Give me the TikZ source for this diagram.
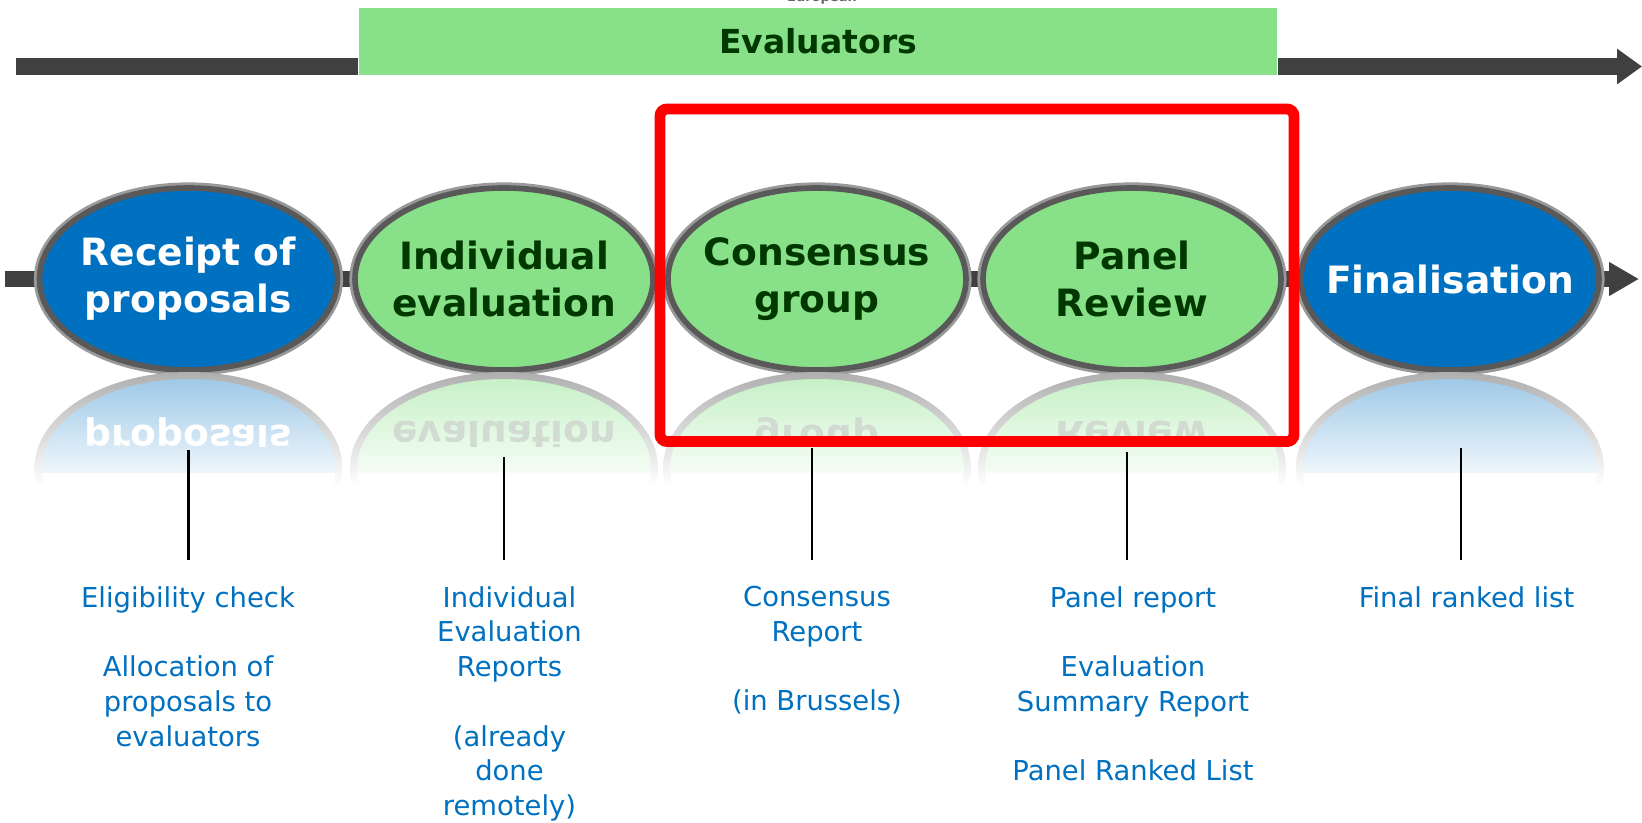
\documentclass[tikz,border=0pt]{standalone}
\usepackage{fontspec}
\setmainfont{DejaVu Sans}
\usepackage{xcolor}
\usepackage{tikz}
\usetikzlibrary{shapes.geometric, arrows.meta, positioning, backgrounds}

\definecolor{ecblue}{HTML}{0070C0}
\definecolor{evgreen}{HTML}{88E188}
\definecolor{evdark}{HTML}{003800}
\definecolor{bargray}{HTML}{404040}

\begin{document}
\begin{tikzpicture}[
    phase/.style={ellipse, draw=black!65, line width=1.6pt, minimum width=2.98cm, minimum height=1.82cm,
        inner sep=-0.35cm, align=center, font=\bfseries\fontsize{10.7pt}{13.4pt}\selectfont,
        preaction={draw=black!40, line width=3.2pt}},
    ecphase/.style={phase, fill=ecblue, text=white},
    evphase/.style={phase, fill=evgreen, text=evdark},
    mirrortext/.style={align=center, inner sep=0pt, transform shape, font=\bfseries\fontsize{10.7pt}{13.4pt}\selectfont},
    blueglow/.style={top color=ecblue!50, middle color=ecblue!33, bottom color=white},
    greenglow/.style={top color=evgreen!62, middle color=evgreen!42, bottom color=white},
    rimglow/.style={top color=black!40, bottom color=white},
    note/.style={text=ecblue, align=center, anchor=north, inner xsep=0pt, inner ysep=7.3pt,
        font=\fontsize{7.8pt}{9.87pt}\selectfont},
    bar/.style={draw=bargray, line width=4.8pt},
    drop/.style={draw=black, line width=0.75pt},
    focus/.style={draw=red, line width=3.1pt, rounded corners=2pt},
]
\useasboundingbox (0,0) rectangle (16.42,8.22);

% === EVALUATORS BAR ===
\coordinate (top_start) at (0.16, 7.555);
\coordinate (top_end) at (16.42, 7.555);
\node[fill=evgreen, minimum width=9.18cm, minimum height=0.67cm, inner sep=0pt, text=evdark,
    font=\bfseries\fontsize{9.4pt}{11pt}\selectfont] (evaluators) at (8.18, 7.805) {\raisebox{-1.4pt}{Evaluators}};
\node[anchor=base, text=black!60, font=\bfseries\fontsize{3.7pt}{4pt}\selectfont] (european) at (8.22, 8.205) {European};
\draw[bar] (top_start) -- (top_start -| evaluators.west);
\draw[bar, -{Triangle[length=0.25cm, width=0.34cm]}] (top_end -| evaluators.east) -- (top_end);

% === PHASES ===
\node[ecphase] (rcpt) at (1.885, 5.43) {Receipt of\\proposals};
\node[evphase] (indiv) at (5.04, 5.43) {Individual\\evaluation};
\node[evphase] (cons) at (8.17, 5.43) {Consensus\\group};
\node[evphase] (panel) at (11.32, 5.43) {Panel\\Review};
\node[ecphase] (final) at (14.50, 5.43) {Finalisation};

% Timeline behind the phases
\coordinate (mid_start) at (0.05, 5.43);
\coordinate (mid_end) at (16.39, 5.43);
\begin{scope}[on background layer]
\draw[bar, line width=4.3pt] (mid_start) -- (rcpt);
\draw[bar, line width=4.3pt] (rcpt) -- (indiv);
\draw[bar, line width=4.3pt] (indiv) -- (cons);
\draw[bar, line width=4.3pt] (cons) -- (panel);
\draw[bar, line width=4.3pt] (panel) -- (final);
\draw[bar, line width=4.3pt, -{Triangle[length=0.3cm, width=0.32cm]}] (final) -- (mid_end);
\end{scope}

% === REFLECTIONS ===
% Receipt of proposals
\begin{scope}
\clip (0.2, 4.50) rectangle (3.6, 3.50);
\clip (1.885, 3.54) ellipse [x radius=1.49, y radius=0.91];
\shade[blueglow] (0.2, 4.80) rectangle (3.6, 3.30);
\clip (0.2, 4.50) rectangle (3.6, 3.76);
\begin{scope}[cm={1,0,0,-1,(0,9.06)}]
\node[mirrortext, text=white] (rcpt_refl) at (1.885, 5.43) {Receipt of\\proposals};
\end{scope}
\end{scope}
\begin{scope}[even odd rule]
\clip (1.885, 3.54) ellipse [x radius=1.54, y radius=0.96] (1.885, 3.54) ellipse [x radius=1.47, y radius=0.89];
\shade[rimglow] (0.2, 4.815) rectangle (3.6, 3.355);
\end{scope}

% Individual evaluation
\begin{scope}
\clip (3.4, 4.50) rectangle (6.7, 3.50);
\clip (5.04, 3.54) ellipse [x radius=1.49, y radius=0.91];
\shade[greenglow] (3.4, 4.80) rectangle (6.7, 3.30);
\clip (3.4, 4.50) rectangle (6.7, 3.76);
\begin{scope}[cm={1,0,0,-1,(0,9.06)}]
\node[mirrortext, text=evdark!18] (indiv_refl) at (5.04, 5.43) {Individual\\evaluation};
\end{scope}
\end{scope}
\begin{scope}[even odd rule]
\clip (5.04, 3.54) ellipse [x radius=1.54, y radius=0.96] (5.04, 3.54) ellipse [x radius=1.47, y radius=0.89];
\shade[rimglow] (3.4, 4.815) rectangle (6.7, 3.355);
\end{scope}

% Consensus group
\begin{scope}
\clip (6.5, 4.50) rectangle (9.8, 3.50);
\clip (8.17, 3.54) ellipse [x radius=1.49, y radius=0.91];
\shade[greenglow] (6.5, 4.80) rectangle (9.8, 3.30);
\clip (6.5, 4.50) rectangle (9.8, 3.76);
\begin{scope}[cm={1,0,0,-1,(0,9.06)}]
\node[mirrortext, text=evdark!18] (cons_refl) at (8.17, 5.43) {Consensus\\group};
\end{scope}
\end{scope}
\begin{scope}[even odd rule]
\clip (8.17, 3.54) ellipse [x radius=1.54, y radius=0.96] (8.17, 3.54) ellipse [x radius=1.47, y radius=0.89];
\shade[rimglow] (6.5, 4.815) rectangle (9.8, 3.355);
\end{scope}

% Panel Review
\begin{scope}
\clip (9.7, 4.50) rectangle (13.0, 3.50);
\clip (11.32, 3.54) ellipse [x radius=1.49, y radius=0.91];
\shade[greenglow] (9.7, 4.80) rectangle (13.0, 3.30);
\clip (9.7, 4.50) rectangle (13.0, 3.76);
\begin{scope}[cm={1,0,0,-1,(0,9.06)}]
\node[mirrortext, text=evdark!18] (panel_refl) at (11.32, 5.43) {Panel\\Review};
\end{scope}
\end{scope}
\begin{scope}[even odd rule]
\clip (11.32, 3.54) ellipse [x radius=1.54, y radius=0.96] (11.32, 3.54) ellipse [x radius=1.47, y radius=0.89];
\shade[rimglow] (9.7, 4.815) rectangle (13.0, 3.355);
\end{scope}

% Finalisation
\begin{scope}
\clip (12.9, 4.50) rectangle (16.1, 3.50);
\clip (14.50, 3.54) ellipse [x radius=1.49, y radius=0.91];
\shade[blueglow] (12.9, 4.80) rectangle (16.1, 3.30);
\end{scope}
\begin{scope}[even odd rule]
\clip (14.50, 3.54) ellipse [x radius=1.54, y radius=0.96] (14.50, 3.54) ellipse [x radius=1.47, y radius=0.89];
\shade[rimglow] (12.9, 4.815) rectangle (16.1, 3.355);
\end{scope}

% === OUTPUTS ===
\node[note] (note_rcpt) at (1.88, 2.62) {Eligibility check\\[9.9pt]Allocation of\\proposals to\\evaluators};
\node[note] (note_indiv) at (5.095, 2.62) {Individual\\Evaluation\\Reports\\[9.9pt](already\\done\\remotely)};
\node[note] (note_cons) at (8.17, 2.62) {Consensus\\Report\\[9.9pt](in Brussels)};
\node[note] (note_panel) at (11.33, 2.62) {Panel report\\[9.9pt]Evaluation\\Summary Report\\[9.9pt]Panel Ranked List};
\node[note] (note_final) at (14.665, 2.62) {Final ranked list};

% Drop lines
\coordinate (drop_rcpt) at (1.885, 3.72);
\coordinate (drop_indiv) at (5.04, 3.65);
\coordinate (drop_cons) at (8.12, 3.74);
\coordinate (drop_panel) at (11.27, 3.70);
\coordinate (drop_final) at (14.61, 3.74);
\draw[drop] (drop_rcpt) -- (drop_rcpt |- note_rcpt.north);
\draw[drop] (drop_indiv) -- (drop_indiv |- note_indiv.north);
\draw[drop] (drop_cons) -- (drop_cons |- note_cons.north);
\draw[drop] (drop_panel) -- (drop_panel |- note_panel.north);
\draw[drop] (drop_final) -- (drop_final |- note_final.north);

% Panel stage highlight
\draw[focus] (6.60, 7.13) rectangle (12.94, 3.805);

\end{tikzpicture}
\end{document}
